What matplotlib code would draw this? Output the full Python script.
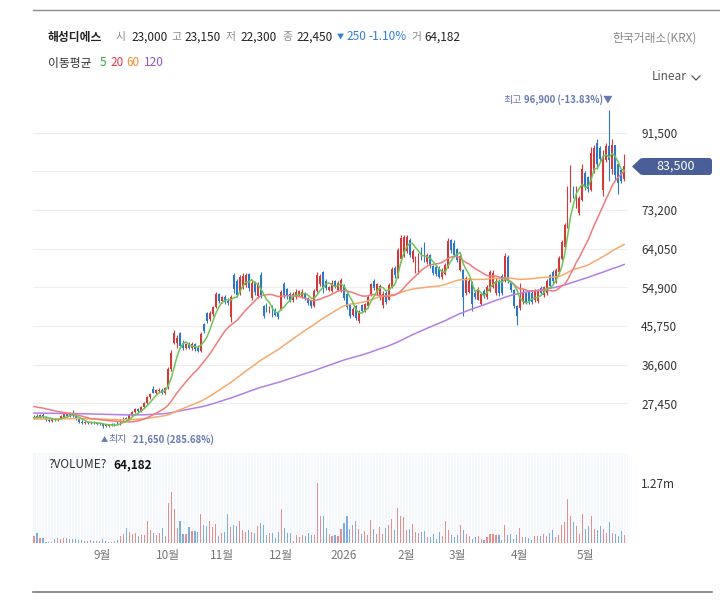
import matplotlib
matplotlib.use('Agg')
import matplotlib.pyplot as plt
import numpy as np
from matplotlib.patches import Polygon, FancyBboxPatch
from matplotlib.lines import Line2D
from matplotlib.transforms import IdentityTransform
from matplotlib.ticker import FuncFormatter

plt.rcParams['font.family'] = ['Noto Sans CJK KR', 'DejaVu Sans']

# ---------------- data ----------------
opens = [
    23900, 24500, 24000, 24700, 24200, 23600, 23300, 23700, 23400, 23900,
    24300, 24800, 24500, 25200, 24500, 23800, 23100, 22700, 23000, 22800,
    23000, 22900, 22600, 22700, 22300, 22100, 22500, 22200, 23000, 22500,
    23400, 24000, 23800, 24700, 25400, 26000, 25600, 26600, 27500, 28900,
    30800, 30000, 30400, 30700, 29900, 31000, 35500, 41800, 41700, 44000,
    41800, 40600, 41500, 40500, 41400, 40500, 39900, 46200, 48800, 47300,
    48500, 50200, 53300, 51600, 52600, 51600, 47800, 57800, 56300, 53500,
    55000, 55500, 58000, 52400, 56000, 52800, 57900, 50500, 50900, 49200,
    50400, 49600, 48800, 49800, 55600, 54400, 53400, 51800, 52500, 53000,
    52700, 53500, 52300, 51800, 50400, 54000, 55800, 58600, 56500, 54200,
    54000, 56400, 54300, 54300, 55500, 53300, 50600, 48400, 50500, 47000,
    50800, 49400, 50500, 53000, 56500, 53800, 52400, 50800, 53600, 52000,
    55000, 59500, 57500, 61500, 62400, 63500, 66000, 61500, 58500, 58500,
    64000, 65200, 60800, 62500, 60000, 59800, 59500, 57300, 58000, 59800,
    66200, 65500, 64000, 59000, 59000, 53500, 53800, 56000, 53600, 52000,
    51000, 54000, 52500, 54000, 55000, 53500, 56500, 57500, 56500, 62000,
    56000, 54300, 50500, 50000, 51500, 53500, 53800, 53600, 51800, 51600,
    54800, 53000, 53500, 57800, 58500, 56300, 58500, 61500, 64500, 69500,
    78000, 78600, 74200, 72500, 75500, 82000, 81000, 78000, 82500, 89000,
    87800, 78000, 85000, 88300, 83000, 88500, 84000, 82700, 80500,
]
highs = [
    24600, 24900, 25000, 25100, 24400, 23900, 23900, 23900, 24000, 24600,
    25000, 25100, 25300, 25900, 24700, 24000, 23400, 23200, 23200, 23200,
    23150, 23100, 22900, 22800, 22600, 22600, 22700, 22700, 23150, 23600,
    24200, 24300, 24900, 25700, 26300, 26400, 26800, 27800, 29200, 30000,
    31500, 30900, 31000, 31000, 31200, 36000, 40000, 44800, 43500, 44300,
    42500, 41800, 41900, 41900, 41700, 41200, 44300, 46500, 49000, 49200,
    50500, 53800, 53600, 52900, 53000, 52400, 53000, 58400, 56800, 57900,
    58200, 58300, 58300, 56600, 56400, 56200, 58600, 50800, 51200, 50400,
    50600, 50100, 49200, 54300, 56100, 54800, 53900, 53800, 54500, 54300,
    54400, 53800, 52600, 52000, 54500, 58500, 58000, 58800, 56800, 55300,
    56600, 56700, 56300, 57000, 55700, 53500, 50800, 50200, 50700, 49500,
    51000, 51300, 53000, 56000, 56800, 56000, 55800, 54000, 54000, 55900,
    59800, 60000, 64300, 67300, 67300, 67300, 66500, 64000, 62300, 63000,
    64400, 65600, 63000, 62800, 60300, 60200, 60000, 59500, 60600, 66500,
    66400, 66000, 64300, 62800, 59300, 57600, 57200, 56500, 54000, 55000,
    53800, 54500, 55500, 59000, 59000, 57000, 56800, 58000, 63000, 62500,
    56300, 54500, 50800, 56000, 54500, 53800, 54200, 54000, 54500, 54500,
    55200, 55300, 56800, 58000, 58900, 59500, 62400, 66100, 70200, 79000,
    83800, 79000, 79000, 76600, 84000, 82500, 81300, 88000, 88500, 89900,
    88300, 87500, 89000, 96900, 89900, 88700, 84500, 83000, 86500,
]
lows = [
    23700, 23900, 23800, 24000, 23300, 23000, 23100, 23200, 23300, 23700,
    24100, 24300, 24300, 24300, 23600, 22900, 22500, 22500, 22600, 22600,
    22600, 22400, 22300, 21650, 21900, 21900, 22000, 22100, 22300, 22400,
    23200, 23500, 23600, 24500, 25100, 25300, 25400, 26300, 27200, 28500,
    29800, 29600, 29900, 29600, 29700, 30800, 35000, 41500, 40500, 40500,
    40000, 40200, 40200, 40100, 39800, 39500, 39600, 44000, 46500, 47000,
    48200, 50000, 51200, 51200, 51000, 50800, 46800, 53600, 52600, 53200,
    54500, 55000, 54100, 52000, 53200, 52400, 52400, 47600, 49000, 48900,
    47800, 48000, 47300, 49600, 52400, 52200, 51400, 51500, 52200, 52800,
    52300, 51800, 50700, 50000, 50200, 53800, 55200, 53600, 54200, 54000,
    53800, 54800, 54000, 53800, 51800, 49800, 47600, 48000, 47100, 46400,
    49000, 49100, 50000, 52800, 54200, 53200, 52000, 50000, 51000, 51800,
    54700, 57000, 57000, 61000, 62000, 63000, 62000, 61000, 58200, 58000,
    61400, 61000, 60500, 59500, 57800, 57500, 57000, 56800, 57800, 59500,
    63000, 62000, 60800, 58800, 48000, 53000, 53500, 49200, 52200, 51800,
    50800, 52300, 52200, 53800, 54800, 53200, 52800, 53000, 56200, 56000,
    53800, 50000, 45900, 49500, 51000, 51000, 51000, 51000, 51500, 51300,
    53000, 52700, 53200, 54800, 55800, 56000, 58300, 61300, 64000, 69000,
    75000, 76000, 73700, 72000, 75300, 78000, 77500, 77800, 82000, 83000,
    84600, 76500, 84500, 80000, 81800, 80000, 77000, 79500, 80000,
]
closes = [
    24300, 24100, 24700, 24200, 23500, 23300, 23700, 23400, 23900, 24400,
    24800, 24500, 25000, 24500, 23800, 23100, 22700, 23000, 22800, 23000,
    22800, 22600, 22700, 22100, 22100, 22400, 22200, 22600, 22450, 23400,
    24000, 23700, 24700, 25400, 26000, 25600, 26600, 27500, 28900, 29700,
    30000, 30600, 30700, 29900, 31000, 35500, 39300, 44000, 42800, 41000,
    40600, 41500, 40500, 41400, 40300, 39900, 43900, 44500, 47000, 48800,
    50200, 53300, 51600, 52500, 51400, 51200, 52600, 54600, 53200, 57300,
    57600, 57900, 54800, 56000, 53800, 55600, 53100, 48200, 49500, 50200,
    48600, 48400, 47900, 53800, 53000, 52800, 51700, 53300, 53900, 54000,
    53900, 52200, 51200, 50400, 54000, 57800, 57500, 54500, 54700, 55000,
    56000, 55100, 55900, 56600, 52300, 50200, 48100, 49800, 47600, 49000,
    49400, 51000, 52600, 55600, 54800, 55700, 55200, 53300, 51500, 55400,
    59300, 57800, 63800, 66500, 66800, 66900, 62600, 63500, 61800, 62600,
    62000, 61600, 62500, 60000, 58200, 58000, 57400, 59000, 60200, 65800,
    63800, 62600, 61300, 62200, 52500, 57000, 56500, 51000, 52600, 54500,
    53400, 52800, 55000, 58500, 58300, 56500, 53500, 53600, 62400, 56800,
    54200, 50500, 48000, 52500, 53500, 51500, 51600, 51500, 54000, 54100,
    53500, 55000, 56300, 55300, 56300, 59000, 61900, 65600, 69700, 78200,
    82800, 76500, 78400, 76000, 83000, 78700, 78200, 86800, 87800, 84000,
    85200, 86000, 88300, 85000, 88500, 81500, 79500, 80000, 83500,
]
volumes = [
    155000, 212000, 106000, 100000, 30000, 25000, 30000, 85000, 106000, 85000,
    100000, 106000, 90000, 85000, 80000, 60000, 55000, 50000, 45000, 55000,
    50000, 40000, 45000, 85000, 35000, 30000, 30000, 35000, 64182, 155000,
    190000, 318000, 226000, 198000, 212000, 141000, 170000, 176000, 459000, 268000,
    212000, 176000, 212000, 318000, 155000, 833000, 1080000, 706000, 318000, 466000,
    198000, 198000, 339000, 247000, 247000, 226000, 614000, 388000, 353000, 466000,
    332000, 402000, 141000, 212000, 226000, 614000, 339000, 388000, 353000, 466000,
    268000, 226000, 268000, 226000, 212000, 353000, 424000, 388000, 176000, 212000,
    212000, 106000, 226000, 706000, 318000, 212000, 212000, 35000, 162000, 120000,
    162000, 141000, 212000, 176000, 176000, 1270000, 579000, 565000, 325000, 190000,
    141000, 176000, 141000, 296000, 424000, 579000, 296000, 388000, 459000, 300000,
    198000, 247000, 176000, 480000, 303000, 198000, 339000, 198000, 325000, 374000,
    501000, 282000, 727000, 565000, 550000, 268000, 303000, 409000, 233000, 219000,
    233000, 254000, 127000, 127000, 198000, 92000, 233000, 148000, 459000, 268000,
    162000, 127000, 176000, 388000, 268000, 198000, 148000, 92000, 127000, 141000,
    92000, 71000, 127000, 198000, 198000, 176000, 162000, 56000, 374000, 162000,
    198000, 92000, 176000, 325000, 127000, 127000, 113000, 71000, 148000, 148000,
    148000, 198000, 148000, 212000, 268000, 127000, 162000, 388000, 445000, 917000,
    565000, 445000, 353000, 198000, 607000, 303000, 353000, 579000, 303000, 268000,
    353000, 303000, 212000, 445000, 212000, 198000, 148000, 254000, 176000,
]
month_idx = [23, 45, 63, 83, 104, 125, 142, 163, 185]
month_labels = ['9월', '10월', '11월', '12월', '2026', '2월', '3월', '4월', '5월']
price_ticks = [27450, 36600, 45750, 54900, 64050, 73200, 82350, 91500]
ma_periods = [5, 20, 60, 120]
ma_seed = [23980, 26810, 23740, 25150]   # MA values at the left edge
ma_colors = ['#6cc655', '#f07b7b', '#f6aa6c', '#b37ee6']
ma_legend_colors = ['#2aa844', '#e8384f', '#f08a2c', '#8e52d6']
high_idx, high_val = 193, 96900
low_idx, low_val = 23, 21650

# ---------------- figure ----------------
W, H = 720, 602
fig = plt.figure(figsize=(W / 100, H / 100), dpi=100)
fig.patch.set_facecolor('white')


def fx(px):
    return px / W


def fy(py):
    return 1 - py / H


left_px, right_px = 33, 628
ax = fig.add_axes([fx(left_px), fy(450), (right_px - left_px) / W, (450 - 90) / H])
axv = fig.add_axes([fx(left_px), fy(543), (right_px - left_px) / W, (543 - 453) / H])

n = len(closes)
x = np.arange(n)
o = np.array(opens, float)
hi = np.array(highs, float)
lo = np.array(lows, float)
c = np.array(closes, float)
v = np.array(volumes, float)
up = c >= o

RED, BLUE = '#d23a3a', '#2a78c8'
cols = np.where(up, RED, BLUE)

xl = (-0.34, 199.3)
for a in (ax, axv):
    a.set_xlim(*xl)
    for s in a.spines.values():
        s.set_visible(False)

# price panel
ax.set_ylim(16395, 101607)
for t in price_ticks:
    ax.axhline(t, color='#eeeeee', lw=0.8, zorder=0)
ax.vlines(x, lo, hi, colors=cols, lw=0.8, zorder=3)
body_h = np.maximum(np.abs(c - o), 150)
ax.bar(x, body_h, bottom=np.minimum(o, c), width=0.62, color=cols, zorder=3, linewidth=0)


def moving_average(vals, period, seed):
    padded = np.concatenate([np.full(period - 1, seed), vals])
    return np.convolve(padded, np.ones(period) / period, mode='valid')


for p, sd, col in zip(ma_periods[::-1], ma_seed[::-1], ma_colors[::-1]):
    ax.plot(x, moving_average(c, p, sd), color=col, lw=1.1, zorder=4)

ax.set_xticks([])
ax.yaxis.tick_right()
ax.set_yticks(price_ticks)
# the 82,350 label sits under the current-price tag in the reference
ax.yaxis.set_major_formatter(FuncFormatter(
    lambda val, pos: '' if int(val) == 82350 else f'{int(val):,}'))
ax.tick_params(axis='y', length=0, pad=9.5, labelsize=8.5, labelcolor='#333333')

# annotations high / low
ANN = '#6679b0'
t_hi_num = ax.annotate('96,900 (-13.83%)▼', xy=(high_idx, high_val), xytext=(4, 5),
                       textcoords='offset pixels', ha='right', va='bottom', fontsize=6.9,
                       color=ANN, fontweight='bold')
t_hi = ax.annotate('최고', xy=(high_idx, high_val), xytext=(4, 5),
                   textcoords='offset pixels', ha='right', va='bottom', fontsize=7.2,
                   color=ANN)
ax.annotate('▲', xy=(low_idx, low_val), xytext=(-2, -8), textcoords='offset pixels',
            ha='left', va='top', fontsize=5.2, color=ANN)
ax.annotate('최지', xy=(low_idx, low_val), xytext=(6, -6), textcoords='offset pixels',
            ha='left', va='top', fontsize=7.2, color=ANN)
ax.annotate('21,650 (285.68%)', xy=(low_idx, low_val), xytext=(30, -6),
            textcoords='offset pixels', ha='left', va='top', fontsize=6.9,
            color=ANN, fontweight='bold')

# volume panel
vmax = (543 - 453) * 1.27e6 / 60.3
axv.set_ylim(0, vmax)
axv.set_facecolor('#f4f7fc')
axv.vlines(x + 0.5, 0, vmax, colors='#ffffff', lw=0.7, zorder=0)
vcols = np.where(up, '#e48e8e', '#7aaede')
axv.bar(x, v, width=0.38, color=vcols, linewidth=0, zorder=2)
axv.yaxis.tick_right()
axv.set_yticks([1.27e6])
axv.set_yticklabels(['1.27m'])
axv.tick_params(axis='y', length=0, pad=9.5, labelsize=8.5, labelcolor='#333333')
axv.set_xticks(month_idx)
axv.set_xticklabels(month_labels)
axv.tick_params(axis='x', length=0, pad=4, labelsize=8.5, labelcolor='#777777')

# header texts


def ftext(px, py, s, **kw):
    kw.setdefault('va', 'center')
    kw.setdefault('fontsize', 8.5)
    return fig.text(fx(px), fy(py), s, **kw)


DARK, GRAY, HBLUE = '#222222', '#8a8a8a', '#2f7fd8'
ftext(48, 37, '해성디에스', color=DARK, fontweight='bold')
labels_hdr = [(116, '시'), (171, '고'), (226, '저'), (282, '종'), (411, '거')]
numbers_hdr = [(131, '23,000'), (184, '23,150'), (240, '22,300'), (296, '22,450'), (424, '64,182')]
for px, s in labels_hdr:
    ftext(px, 37, s, color=GRAY, fontsize=7.8)
for px, s in numbers_hdr:
    ftext(px, 37, s, color=DARK)
ftext(337, 37, '▼', color=HBLUE, fontsize=5.2)
ftext(346, 37, '250', color=HBLUE)
ftext(368, 37, '-1.10%', color=HBLUE)
ftext(612, 38, '한국거래소(KRX)', color=GRAY)

ftext(48, 63, '이동평균', color='#333333')
for px, s, col in zip([100, 110, 126, 144], [str(p) for p in ma_periods], ma_legend_colors):
    ftext(px, 63, s, color=col)
ftext(652, 77, 'Linear', color='#555555')
fig.add_artist(Line2D([fx(692), fx(696), fx(700)], [fy(76), fy(80), fy(76)],
                      transform=fig.transFigure, color='#555555', lw=0.9))

ftext(48, 465, '?VOLUME?', color='#333333')
ftext(113, 465, '64,182', color='#111111', fontweight='bold')

# frame lines
fig.add_artist(Line2D([fx(33), fx(720)], [fy(10), fy(10)], transform=fig.transFigure,
                      color='#8c8c8c', lw=1.0))
fig.add_artist(Line2D([fx(33), fx(712)], [fy(592), fy(592)], transform=fig.transFigure,
                      color='#7a7a7a', lw=1.2))

# current price tag
fig.canvas.draw()
yp = ax.transData.transform((0, closes[-1]))[1]
TAG = '#4a5e98'
tag = FancyBboxPatch((640, yp - 8.5), 72, 17, boxstyle='round,pad=0,rounding_size=3',
                     transform=IdentityTransform(), facecolor=TAG, edgecolor='none', zorder=5)
tri = Polygon([[632, yp], [641, yp + 8.5], [641, yp - 8.5]], closed=True,
              transform=IdentityTransform(), facecolor=TAG, edgecolor='none', zorder=5)
fig.add_artist(tag)
fig.add_artist(tri)
fig.text(676 / W, yp / H, f'{closes[-1]:,}', color='white', fontsize=9, ha='center',
         va='center', zorder=6)

# place '최고' just left of the bold part
r = fig.canvas.get_renderer()
bold_w = t_hi_num.get_window_extent(r).width
t_hi.set_position((4 - bold_w - 3, 5))

fig.savefig('out.png', dpi=100)
